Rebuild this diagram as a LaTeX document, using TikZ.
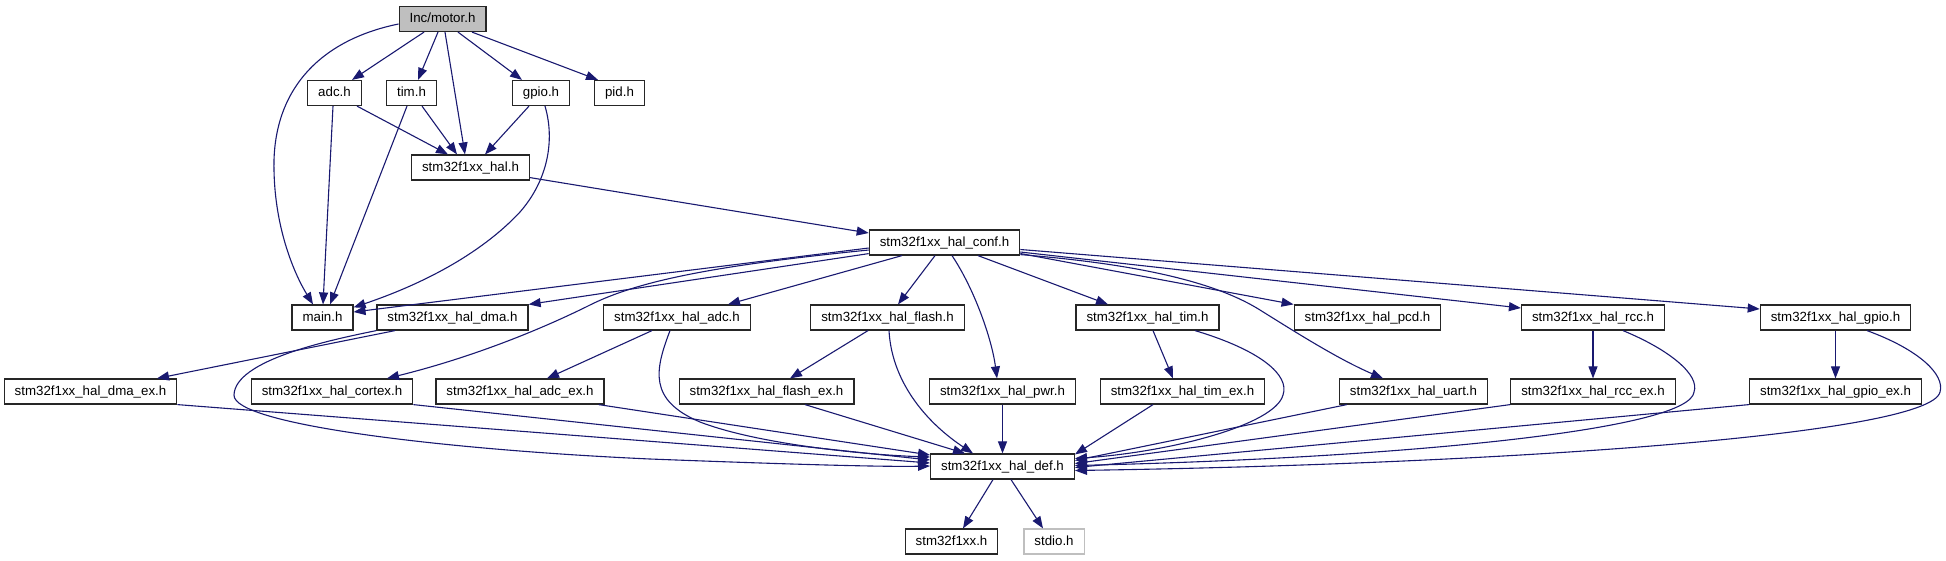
\documentclass[tikz,border=0pt]{standalone}
\usepackage{fontspec}
\setmainfont{Liberation Sans}
\usetikzlibrary{arrows.meta}
\definecolor{edgeblue}{HTML}{191970}
\definecolor{rootgray}{HTML}{BFBFBF}

\begin{document}
\begin{tikzpicture}[x=1pt, y=-1pt,
    file/.style={draw=black!85, line width=1.2pt, fill=white, inner xsep=10.5pt, inner ysep=0pt,
      minimum height=25pt, text height=10pt, text depth=3pt, font=\fontsize{13.3}{16}\selectfont},
    dep/.style={edgeblue, line width=1.1pt, -{Triangle[length=12pt, width=9pt]}}]
  \useasboundingbox (0,0) rectangle (1946,560);
  % files
  \node[file, fill=rootgray] (motor) at (442.5,19) {Inc/motor.h};
  \node[file] (adc) at (334.5,93) {adc.h};
  \node[file] (tim) at (411.5,93) {tim.h};
  \node[file] (gpio) at (541,93) {gpio.h};
  \node[file] (pid) at (619.5,93) {pid.h};
  \node[file] (hal) at (470.5,167.5) {stm32f1xx\_hal.h};
  \node[file] (conf) at (944.5,242.5) {stm32f1xx\_hal\_conf.h};
  \node[file] (main) at (322.5,317.5) {main.h};
  \node[file] (dma) at (452.5,317.5) {stm32f1xx\_hal\_dma.h};
  \node[file] (hadc) at (677,317.5) {stm32f1xx\_hal\_adc.h};
  \node[file] (flash) at (887.5,317.5) {stm32f1xx\_hal\_flash.h};
  \node[file] (htim) at (1147.5,317.5) {stm32f1xx\_hal\_tim.h};
  \node[file] (pcd) at (1367.5,317.5) {stm32f1xx\_hal\_pcd.h};
  \node[file] (rcc) at (1593,317.5) {stm32f1xx\_hal\_rcc.h};
  \node[file] (hgpio) at (1835.5,317.5) {stm32f1xx\_hal\_gpio.h};
  \node[file] (dmaex) at (90.5,391.5) {stm32f1xx\_hal\_dma\_ex.h};
  \node[file] (cortex) at (332,391.5) {stm32f1xx\_hal\_cortex.h};
  \node[file] (adcex) at (520,391.5) {stm32f1xx\_hal\_adc\_ex.h};
  \node[file] (flashex) at (766.5,391.5) {stm32f1xx\_hal\_flash\_ex.h};
  \node[file] (pwr) at (1002.5,391.5) {stm32f1xx\_hal\_pwr.h};
  \node[file] (timex) at (1182.5,391.5) {stm32f1xx\_hal\_tim\_ex.h};
  \node[file] (uart) at (1413.5,391.5) {stm32f1xx\_hal\_uart.h};
  \node[file] (rccex) at (1593,391.5) {stm32f1xx\_hal\_rcc\_ex.h};
  \node[file] (gpioex) at (1835.5,391.5) {stm32f1xx\_hal\_gpio\_ex.h};
  \node[file] (def) at (1002.5,466.5) {stm32f1xx\_hal\_def.h};
  \node[file] (f1xx) at (951.5,541.5) {stm32f1xx.h};
  \node[file, draw=rootgray] (stdio) at (1054,541.5) {stdio.h};

  % Inc/motor.h
  \draw[dep] ([yshift=-5pt]motor.west) .. controls (320,40) and (272,90) .. (274,170)
    .. controls (275,230) and (295,275) .. ([xshift=-9.5pt]main.north);
  \draw[dep] ([xshift=-18.5pt]motor.south) -- ([xshift=17.5pt]adc.north);
  \draw[dep] ([xshift=-4.5pt]motor.south) -- ([xshift=6.5pt]tim.north);
  \draw[dep] ([xshift=2.5pt]motor.south) -- ([xshift=-5.5pt]hal.north);
  \draw[dep] ([xshift=15.5pt]motor.south) -- ([xshift=-19pt]gpio.north);
  \draw[dep] ([xshift=29.5pt]motor.south) -- ([xshift=-21.5pt]pid.north);
  % adc.h, tim.h, gpio.h
  \draw[dep] ([xshift=-1.5pt]adc.south) -- ([xshift=0.5pt]main.north);
  \draw[dep] ([xshift=22.5pt]adc.south) -- ([xshift=-22.5pt]hal.north);
  \draw[dep] ([xshift=-4.5pt]tim.south) -- ([xshift=7.5pt]main.north);
  \draw[dep] ([xshift=10.5pt]tim.south) -- ([xshift=-13.5pt]hal.north);
  \draw[dep] ([xshift=-12pt]gpio.south) -- ([xshift=14.5pt]hal.north);
  \draw[dep] ([xshift=4pt]gpio.south) .. controls (555,140) and (548,180) .. (520,212)
    .. controls (480,255) and (420,285) .. ([yshift=-3pt]main.north east);
  \draw[dep] ([yshift=3pt]hal.south east) -- ([yshift=9.5pt]conf.west);
  % stm32f1xx_hal_conf.h
  \draw[dep] ([yshift=-5.5pt]conf.west) -- ([yshift=5.5pt]main.east);
  \draw[dep] ([yshift=2pt]conf.south west) -- (dma.north east);
  \draw[dep] ([yshift=-7.5pt]conf.west) .. controls (720,265) and (640,280) .. (590,305)
    .. controls (540,330) and (470,358) .. ([xshift=55pt]cortex.north);
  \draw[dep] ([xshift=-42.5pt]conf.south) -- ([xshift=51pt]hadc.north);
  \draw[dep] ([xshift=-9.5pt]conf.south) -- ([xshift=10.5pt]flash.north);
  \draw[dep] ([xshift=7.5pt]conf.south) .. controls (975,290) and (992,340) .. ([xshift=-5.5pt]pwr.north);
  \draw[dep] ([xshift=33.5pt]conf.south) -- ([xshift=-39.5pt]htim.north);
  \draw[dep] ([yshift=-11pt]conf.east) -- (pcd.north west);
  \draw[dep] ([yshift=1pt]conf.south east) .. controls (1150,265) and (1220,285) .. (1260,310)
    .. controls (1300,335) and (1340,360) .. ([xshift=-30.5pt]uart.north);
  \draw[dep] ([yshift=-9.5pt]conf.east) -- ([yshift=9.5pt]rcc.west);
  \draw[dep] ([yshift=-7pt]conf.east) -- ([yshift=8.5pt]hgpio.west);
  % second row
  \draw[dep] ([xshift=-57.5pt]dma.south) -- ([xshift=66.5pt]dmaex.north);
  \draw[dep] (dma.south west) .. controls (330,340) and (235,360) .. (234,395)
    .. controls (233,425) and (450,450) .. (650,459)
    .. controls (780,464) and (880,467) .. ([yshift=0.5pt]def.west);
  \draw[dep] ([xshift=-25pt]hadc.south) -- ([xshift=27pt]adcex.north);
  \draw[dep] ([xshift=-7pt]hadc.south) .. controls (655,370) and (648,400) .. (700,422)
    .. controls (760,445) and (870,455) .. ([yshift=9.5pt]def.west);
  \draw[dep] ([xshift=-19.5pt]flash.south) -- ([xshift=23.5pt]flashex.north);
  \draw[dep] ([xshift=1.5pt]flash.south) .. controls (892,385) and (930,425) .. ([xshift=-29.5pt]def.north);
  \draw[dep] ([xshift=5.5pt]htim.south) -- ([xshift=-9.5pt]timex.north);
  \draw[dep] ([xshift=47.5pt]htim.south) .. controls (1260,350) and (1290,375) .. (1283,395)
    .. controls (1275,425) and (1170,452) .. ([yshift=8pt]def.east);
  \draw[dep] (rcc.south) -- (rccex.north);
  \draw[dep] ([xshift=30pt]rcc.south) .. controls (1670,350) and (1700,375) .. (1694,392)
    .. controls (1690,430) and (1400,458) .. ([yshift=1pt]def.east);
  \draw[dep] (hgpio.south) -- (gpioex.north);
  \draw[dep] ([xshift=31.5pt]hgpio.south) .. controls (1920,350) and (1945,375) .. (1940,392)
    .. controls (1930,435) and (1500,464) .. ([yshift=-4pt]def.east);
  % into stm32f1xx_hal_def.h
  \draw[dep] (dmaex.south east) -- ([yshift=3.5pt]def.west);
  \draw[dep] (cortex.south east) -- ([yshift=6.5pt]def.west);
  \draw[dep] ([xshift=-6pt]adcex.south east) -- ([yshift=11.5pt]def.west);
  \draw[dep] ([xshift=38.5pt]flashex.south) -- ([xshift=-37.5pt]def.north);
  \draw[dep] (pwr.south) -- (def.north);
  \draw[dep] ([xshift=-29.5pt]timex.south) -- ([yshift=-1pt]def.north east);
  \draw[dep] ([xshift=8pt]uart.south west) -- ([yshift=6pt]def.east);
  \draw[dep] (rccex.south west) -- ([yshift=3pt]def.east);
  \draw[dep] (gpioex.south west) -- ([yshift=-1pt]def.east);
  \draw[dep] ([xshift=-9.5pt]def.south) -- ([xshift=11.5pt]f1xx.north);
  \draw[dep] ([xshift=8.5pt]def.south) -- ([xshift=-11pt]stdio.north);
\end{tikzpicture}
\end{document}
